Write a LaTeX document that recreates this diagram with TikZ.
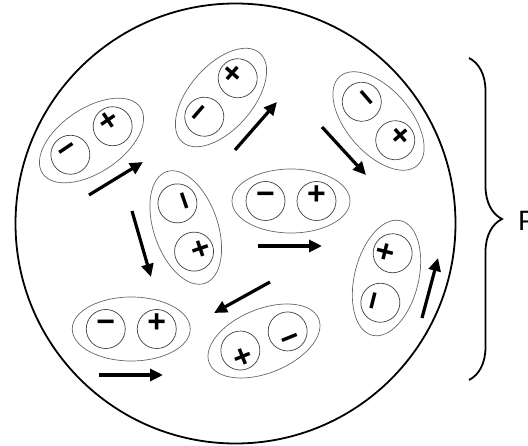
\documentclass[tikz,border=0pt]{standalone}
\usepackage{fontspec}
\newfontfamily\sansfont{Liberation Sans}
\usepackage{tikz}
\usetikzlibrary{arrows.meta,decorations.pathreplacing}
\tikzset{
  ion/.style={circle,draw=black!75,line width=0.7pt,minimum size=39pt,inner sep=0pt,
    text height=0.72em,text depth=0pt,font=\sansfont\bfseries\fontsize{32}{32}\selectfont},
  envoltura/.style={draw=black!60,line width=0.7pt},
  flecha/.style={-{Triangle[length=13pt,width=12pt]},line width=3.2pt},
  par/.pic={
    \draw[envoltura] (0,0) ellipse [x radius=59,y radius=32];
    \node[ion,transform shape] (-menos) at (-25.5,0) {−};
    \node[ion,transform shape] (-mas) at (25.5,0) {+};
  }
}

\begin{document}
\begin{tikzpicture}[x=1pt,y=1pt]
\useasboundingbox (0,0) rectangle (528,445);
% recipiente
\draw[line width=1.8pt] (235.5,221.5) circle [radius=220];
% pares
\pic[rotate=34]  (p1) at (91.5,304.5) {par};
\pic[rotate=49]  (p2) at (221,347.5) {par};
\pic[rotate=-49] (p3) at (378.5,324) {par};
\pic              (p4) at (291,244) {par};
\pic[rotate=-71] (p5) at (185.75,217.5) {par};
\pic              (p6) at (131.25,116) {par};
\pic[rotate=202] (p7) at (264,104) {par};
\pic[rotate=76]  (p8) at (386.5,167) {par};
% flechas
\draw[flecha] (89,250)--(143,283);
\draw[flecha] (235,295)--(277,343);
\draw[flecha] (322,318)--(366,270);
\draw[flecha] (132,234)--(151,168);
\draw[flecha] (258,199)--(322,199);
\draw[flecha] (270,163)--(214,132);
\draw[flecha] (99,70)--(163,70);
\draw[flecha] (422,127)--(438,187);
% llave
\draw[line width=1.8pt,decorate,decoration={brace,amplitude=33pt}] (469,387)--(469,65);
\node[anchor=west,inner sep=0pt,font=\sansfont\fontsize{28}{28}\selectfont] (etiq) at (518,224) {P};
\end{tikzpicture}
\end{document}
